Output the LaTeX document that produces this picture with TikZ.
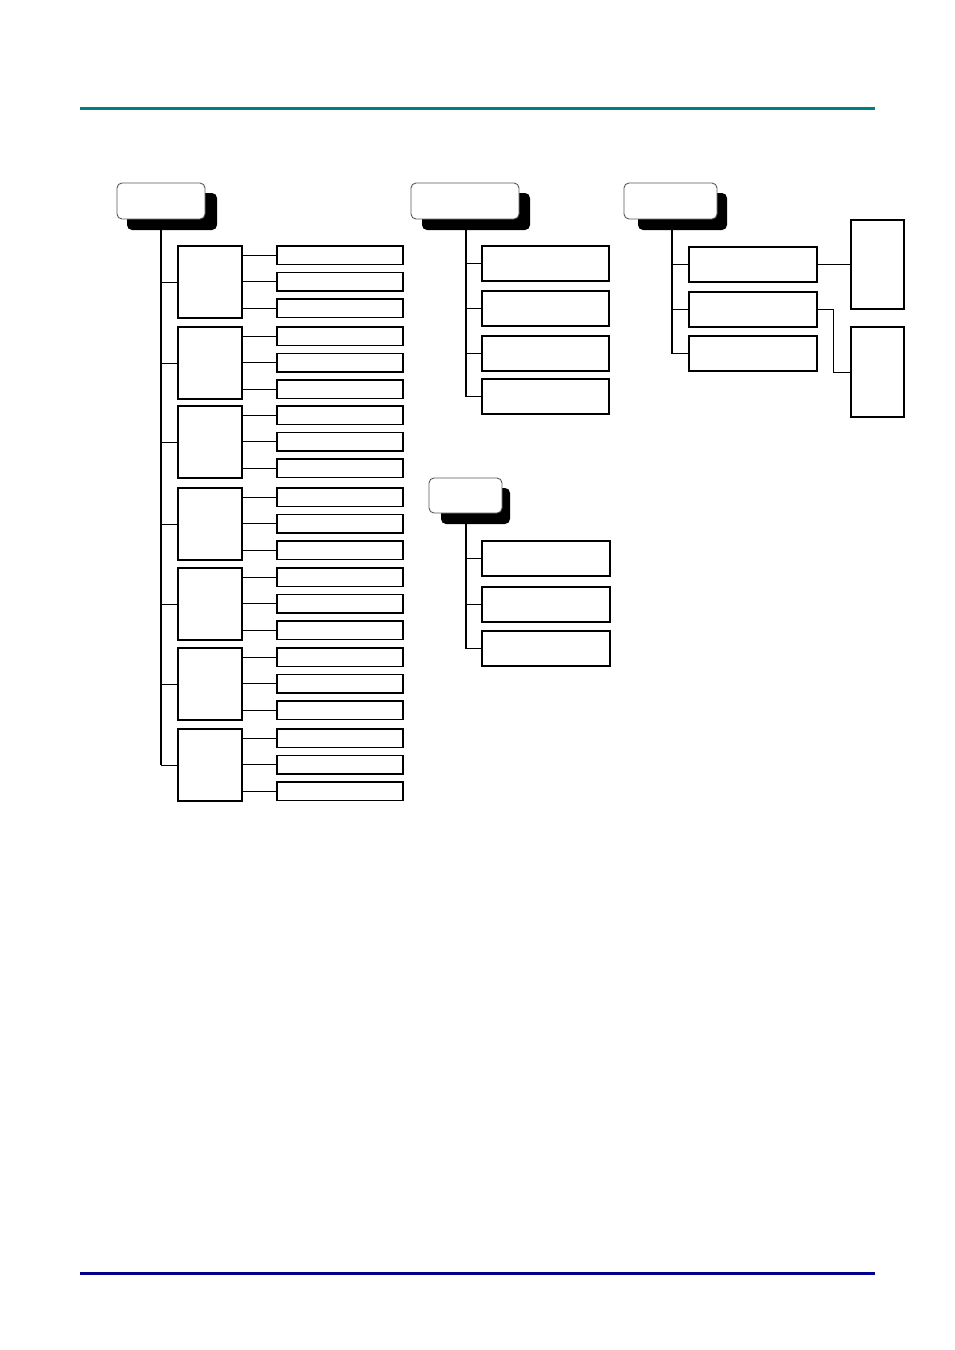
\documentclass[tikz,border=0pt]{standalone}
\usetikzlibrary{calc}
\definecolor{tealline}{RGB}{0,128,128}
\definecolor{navyline}{RGB}{0,0,140}
\begin{document}
\begin{tikzpicture}[x=1pt,y=-1pt,
  box/.style={draw,line width=1.1pt,rectangle,anchor=north west,inner sep=0pt,outer sep=0pt,fill=white},
  leaf/.style={box,minimum width=126pt,minimum height=18.5pt},
  sub/.style={box,minimum width=64pt,minimum height=72pt},
  bigleaf/.style={box,minimum width=127pt,minimum height=35pt},
  side/.style={box,minimum width=53pt,minimum height=89pt},
  root/.style={draw=black!65,line width=0.9pt,fill=white,rounded corners=5pt,anchor=north west,inner sep=0pt,outer sep=0pt},
  shadowbox/.style={fill=black,rounded corners=5pt,anchor=north west,inner sep=0pt,outer sep=0pt},
  trunk/.style={line width=1.8pt},
  thintrunk/.style={line width=1.1pt},
  branch/.style={line width=1pt}]
\useasboundingbox (0,0) rectangle (954,1350);
% header and footer rules
\draw[tealline,line width=3pt] (80,108) -- (875,108);
\draw[navyline,line width=3pt] (80,1273) -- (875,1273);

% ---------- Root A (left column) ----------
\node[shadowbox,minimum width=90pt,minimum height=37pt] (As) at (127,193) {};
\node[root,minimum width=88pt,minimum height=36pt] (A) at (117,183) {};
\coordinate (At) at (161,230);
\foreach \i/\t in {1/246,2/327,3/406,4/488,5/568,6/648,7/729}{
  \node[sub] (g\i) at (178,\t) {};
  \node[leaf] (l\i1) at (277,\t) {};
  \node[leaf] (l\i2) at (277,\t+26.5) {};
  \node[leaf] (l\i3) at (277,\t+53) {};
  \draw[branch] (At |- g\i.west) -- (g\i.west);
  \foreach \j in {1,2,3}{
    \draw[branch] (g\i.east |- l\i\j.west) -- (l\i\j.west);
  }
}
\draw[trunk] (At) -- (At |- g7.west);

% ---------- Root B (middle top) ----------
\node[shadowbox,minimum width=108pt,minimum height=37pt] (Bs) at (422,193) {};
\node[root,minimum width=108pt,minimum height=36pt] (B) at (411,183) {};
\coordinate (Bt) at (466,230);
\foreach \i/\t in {1/246,2/291,3/336,4/379}{
  \node[bigleaf] (b\i) at (482,\t) {};
  \draw[branch] (Bt |- b\i.west) -- (b\i.west);
}
\draw[thintrunk] (Bt) -- (Bt |- b4.west);

% ---------- Root C (right top) ----------
\node[shadowbox,minimum width=89pt,minimum height=37pt] (Cs) at (638,193) {};
\node[root,minimum width=93pt,minimum height=36pt] (C) at (624,183) {};
\coordinate (Ct) at (672,230);
\foreach \i/\t in {1/247,2/292,3/336}{
  \node[bigleaf,minimum width=128pt] (c\i) at (689,\t) {};
  \draw[branch] (Ct |- c\i.west) -- (c\i.west);
}
\draw[thintrunk] (Ct) -- (Ct |- c3.west);
\node[side] (s1) at (851,220) {};
\node[side,minimum height=90pt] (s2) at (851,327) {};
\draw[branch] (c1.east) -- (c1.east -| s1.west);
\draw[branch] (c2.east) -- ++(16,0) |- (s2.west);

% ---------- Root D (middle lower) ----------
\node[shadowbox,minimum width=69pt,minimum height=36pt] (Ds) at (441,488) {};
\node[root,minimum width=73pt,minimum height=35pt] (D) at (429,478) {};
\coordinate (Dt) at (466,524);
\foreach \i/\t in {1/541,2/587,3/631}{
  \node[bigleaf,minimum width=128pt] (d\i) at (482,\t) {};
  \draw[branch,line width=1.4pt] (Dt |- d\i.west) -- (d\i.west);
}
\draw[thintrunk] (Dt) -- (Dt |- d3.west);
\end{tikzpicture}
\end{document}
